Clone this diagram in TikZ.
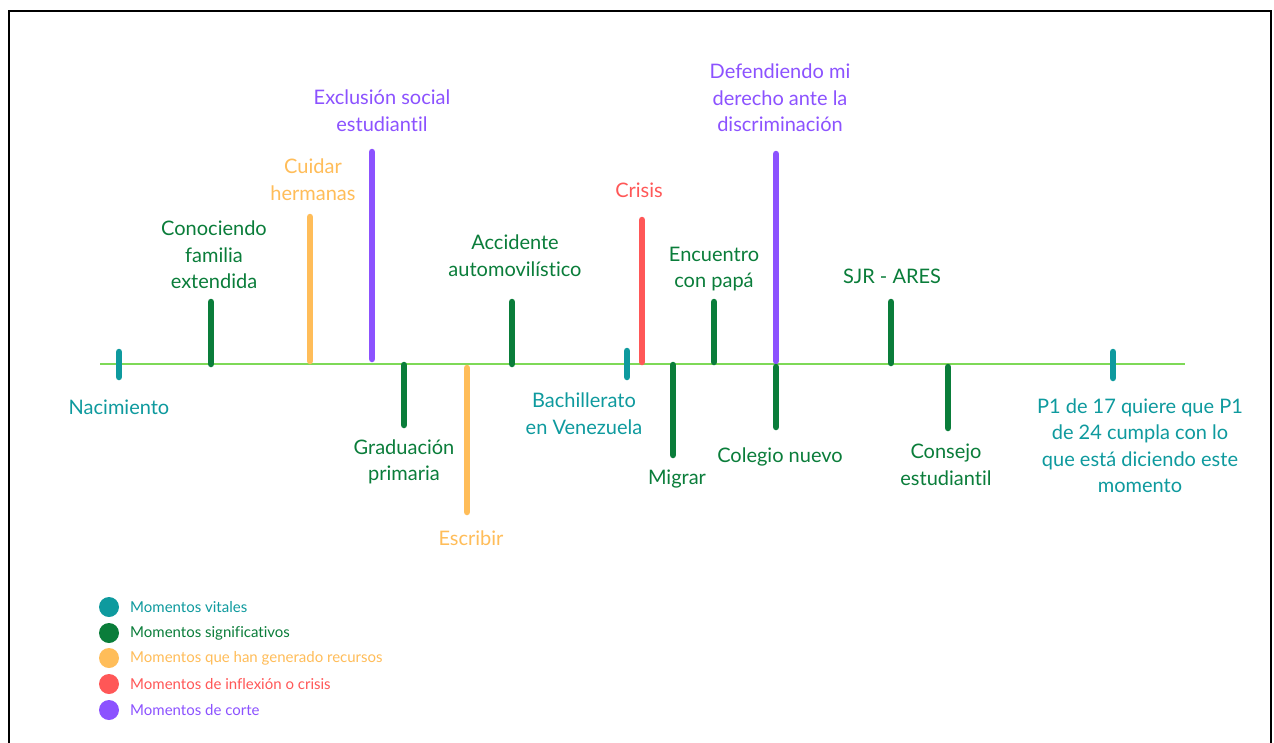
\documentclass[tikz,border=0pt]{standalone}
\usepackage{fontspec}
\setmainfont{Lato}[Ligatures=NoCommon]
\definecolor{cvital}{HTML}{0E9A9E}
\definecolor{csig}{HTML}{0A7D3A}
\definecolor{crec}{HTML}{FFBD59}
\definecolor{ccrisis}{HTML}{FF5757}
\definecolor{ccorte}{HTML}{8C52FF}
\definecolor{cline}{HTML}{7ED957}
\tikzset{
  tick/.style={line width=6.5pt, line cap=round},
  lbl/.style={align=center, font=\fontsize{20}{26.5}\selectfont, inner sep=0pt},
  leg/.style={anchor=west, font=\fontsize{15}{15}\selectfont, inner sep=0pt},
  dot/.style={circle, minimum size=20pt, inner sep=0pt},
}
\begin{document}
\begin{tikzpicture}[x=1pt,y=-1pt]
\useasboundingbox (0,0) rectangle (1274,742);
\fill[white] (0,0) rectangle (1274,742);
\draw[line width=2.5pt] (9,760) -- (9,11) -- (1271,11) -- (1271,760);
% timeline
\coordinate (tl0) at (100,364);
\coordinate (tl1) at (1185,364);
\draw[cline, line width=2.7pt] (tl0) -- (tl1);
% ticks
\coordinate (a1) at (119,352); \coordinate (a2) at (119,377);
\draw[tick, cvital] (a1) -- (a2);
\node[lbl, text=cvital] (nac) at (119,407) {Nacimiento};

\coordinate (b1) at (211,302); \coordinate (b2) at (211,364);
\draw[tick, csig] (b1) -- (b2);
\node[lbl, text=csig] (con) at (214,255) {Conociendo\\familia\\extendida};

\coordinate (c1) at (310,217); \coordinate (c2) at (310,361);
\draw[tick, crec] (c1) -- (c2);
\node[lbl, text=crec] (cui) at (313,179.5) {Cuidar\\hermanas};

\coordinate (d1) at (372,152); \coordinate (d2) at (372,359);
\draw[tick, ccorte] (d1) -- (d2);
\node[lbl, text=ccorte] (exc) at (382,110.5) {Exclusión social\\estudiantil};

\coordinate (e1) at (404,365); \coordinate (e2) at (404,425);
\draw[tick, csig] (e1) -- (e2);
\node[lbl, text=csig] (gra) at (404,462) {Graduación\\primaria};

\coordinate (f1) at (467,368); \coordinate (f2) at (467,512);
\draw[tick, crec] (f1) -- (f2);
\node[lbl, text=crec] (esc) at (471,538) {Escribir};

\coordinate (g1) at (512,302); \coordinate (g2) at (512,364);
\draw[tick, csig] (g1) -- (g2);
\node[lbl, text=csig] (acc) at (515,255.5) {Accidente\\automovilístico};

\coordinate (h1) at (627,351); \coordinate (h2) at (627,377);
\draw[tick, cvital] (h1) -- (h2);
\node[lbl, text=cvital] (bac) at (584,413.5) {Bachillerato\\en Venezuela};

\coordinate (i1) at (642,220); \coordinate (i2) at (642,362);
\draw[tick, ccrisis] (i1) -- (i2);
\node[lbl, text=ccrisis] (cri) at (639,190) {Crisis};

\coordinate (j1) at (673,365); \coordinate (j2) at (673,455);
\draw[tick, csig] (j1) -- (j2);
\node[lbl, text=csig] (mig) at (677,479) {Migrar};

\coordinate (k1) at (714,302); \coordinate (k2) at (714,362);
\draw[tick, csig] (k1) -- (k2);
\node[lbl, text=csig] (enc) at (714,269) {Encuentro\\con papá};

\coordinate (l1) at (776,154); \coordinate (l2) at (776,361);
\draw[tick, ccorte] (l1) -- (l2);
\node[lbl, text=ccorte] (def) at (780,98) {Defendiendo mi\\derecho ante la\\discriminación};

\coordinate (m1) at (776,367); \coordinate (m2) at (776,427);
\draw[tick, csig] (m1) -- (m2);
\node[lbl, text=csig] (col) at (780,457) {Colegio nuevo};

\coordinate (n1) at (891,302); \coordinate (n2) at (891,363);
\draw[tick, csig] (n1) -- (n2);
\node[lbl, text=csig] (sjr) at (892,276) {SJR - ARES};

\coordinate (o1) at (948,367); \coordinate (o2) at (948,428);
\draw[tick, csig] (o1) -- (o2);
\node[lbl, text=csig] (cons) at (946,465) {Consejo\\estudiantil};

\coordinate (p1) at (1113,352); \coordinate (p2) at (1113,378);
\draw[tick, cvital] (p1) -- (p2);
\node[lbl, text=cvital] (pun) at (1140,445.5) {P1 de 17 quiere que P1\\de 24 cumpla con lo\\que está diciendo este\\momento};

% legend
\node[dot, fill=cvital] (d-v) at (109,607) {};
\node[leg, text=cvital] (l-v) at (130,607) {Momentos vitales};
\node[dot, fill=csig] (d-s) at (109,633) {};
\node[leg, text=csig] (l-s) at (130,633) {Momentos significativos};
\node[dot, fill=crec] (d-r) at (109,658) {};
\node[leg, text=crec] (l-r) at (130,658) {Momentos que han generado recursos};
\node[dot, fill=ccrisis] (d-c) at (109,684) {};
\node[leg, text=ccrisis] (l-c) at (130,684) {Momentos de inflexión o crisis};
\node[dot, fill=ccorte] (d-o) at (109,710) {};
\node[leg, text=ccorte] (l-o) at (130,710) {Momentos de corte};
\end{tikzpicture}
\end{document}
